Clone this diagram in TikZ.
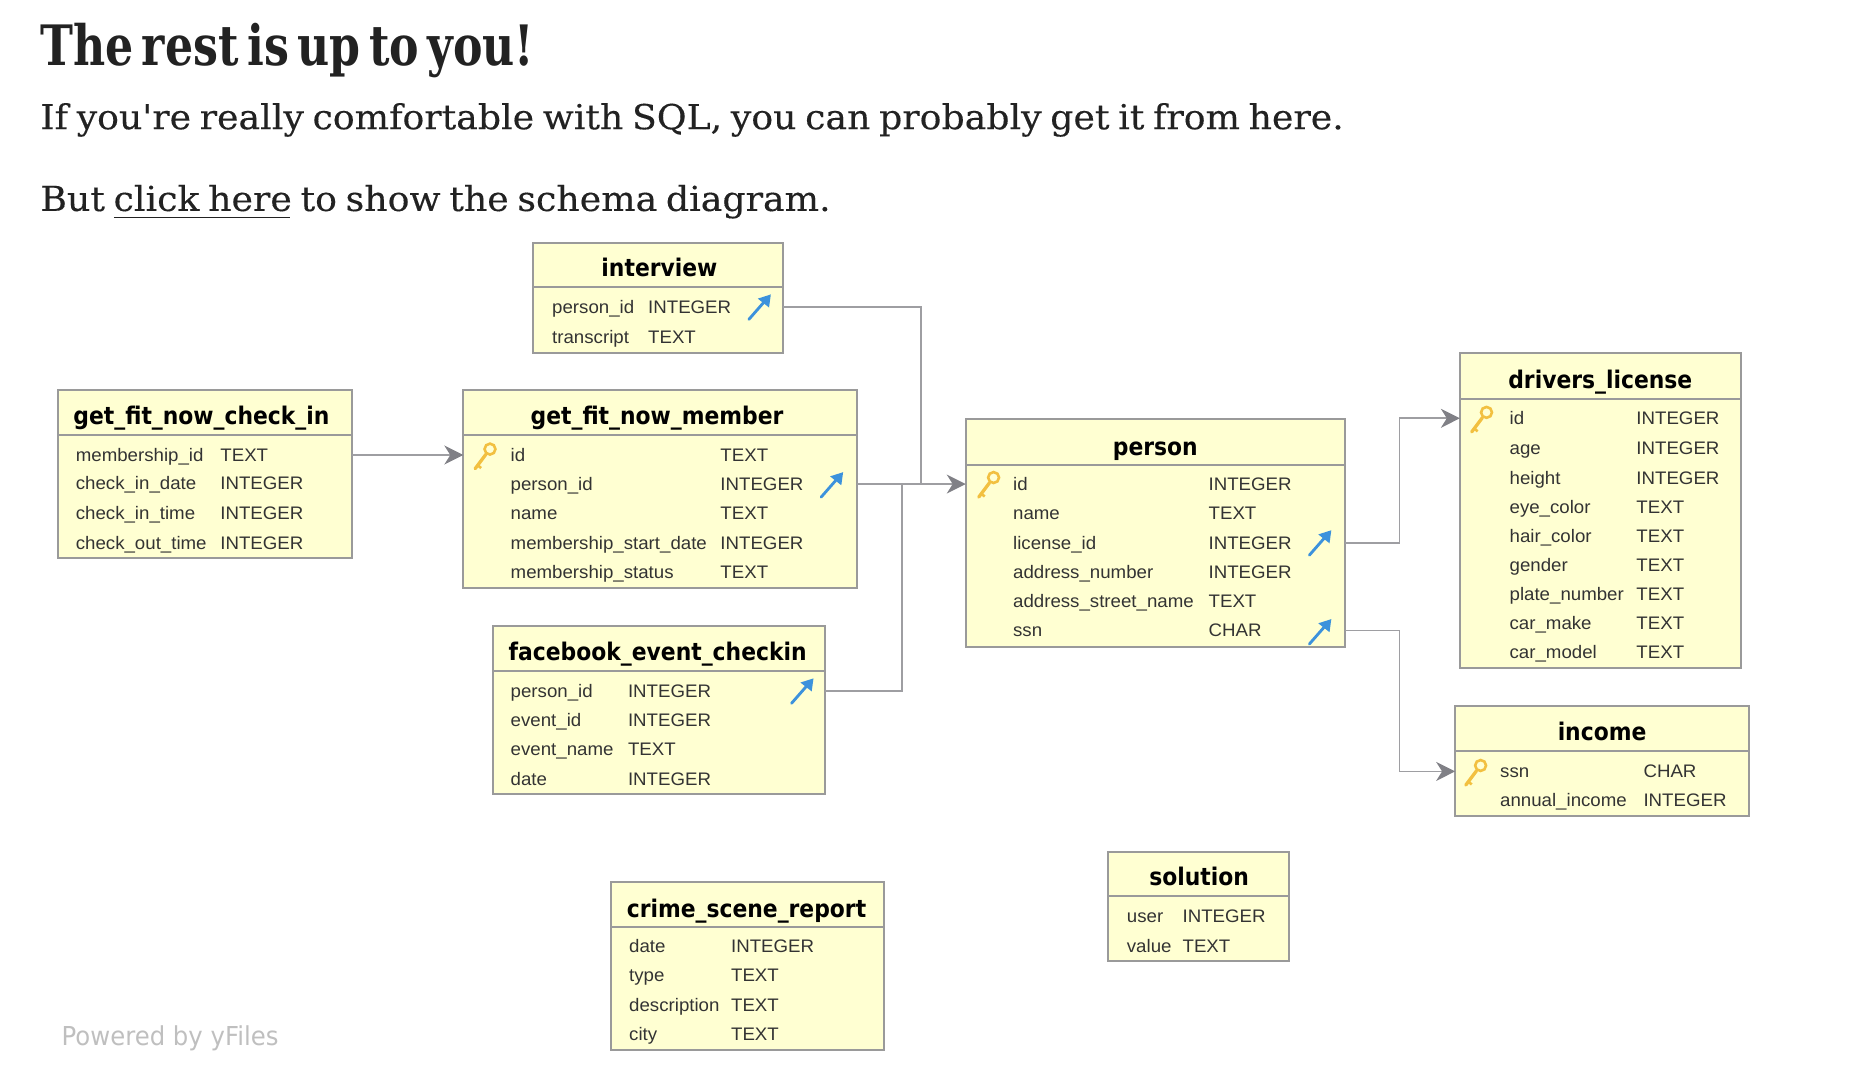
\documentclass[tikz,border=0pt]{standalone}
\usepackage{fontspec}
\setmainfont{Liberation Sans}[FakeStretch=1.03]
\newfontfamily\headfont{DejaVu Serif}[WordSpace=0.55]
\newfontfamily\bodyfont{DejaVu Serif}[WordSpace=0.75,FakeBold=0.25]
\newfontfamily\ttlfont{DejaVu Sans}[FakeStretch=0.9]
\usetikzlibrary{arrows.meta}
\definecolor{boxfill}{HTML}{FFFFD2}
\definecolor{boxline}{HTML}{9A9A9A}
\definecolor{connline}{HTML}{9E9EA2}
\definecolor{headtip}{HTML}{808086}
\definecolor{fkblue}{HTML}{3C92DC}
\definecolor{keygold}{HTML}{F2C040}
\definecolor{inktext}{HTML}{333333}
\definecolor{pagetext}{HTML}{222222}
\tikzset{
 plain/.style={inner sep=0pt,outer sep=0pt},
 tablebox/.style={plain,draw=boxline,fill=boxfill,line width=1.7pt,anchor=north west},
 tabletitle/.style={plain,anchor=base,font=\ttlfont\bfseries\fontsize{20.5}{24}\selectfont,text=black},
 fieldtext/.style={plain,anchor=base west,font=\fontsize{15.3}{18}\selectfont,text=inktext},
 pagetitle/.style={plain,anchor=base west,font=\headfont\bfseries\fontsize{47}{50}\selectfont,text=pagetext},
 pagebody/.style={plain,anchor=base west,font=\bodyfont\fontsize{29}{34}\selectfont,text=pagetext},
 credit/.style={plain,anchor=base west,font=\ttlfont\fontsize{22}{26}\selectfont,text=black!25},
 conn/.style={draw=connline,line width=1.5pt},
 connarrow/.style={conn,-{Stealth[length=16pt,width=16pt,inset=5pt,color=headtip]}},
 keyicon/.pic={
   \draw[keygold,line width=2.8pt,line cap=round] (1,-2) -- (-8,10);
   \draw[keygold,line width=2.2pt] (-6,7) -- (-3,9.5);
   \draw[keygold,line width=2.2pt] (4.5,-6.5) circle[radius=4.6];
 },
 fkicon/.pic={
   \draw[fkblue,line width=2.4pt,line cap=round] (-9,10) -- (5,-6);
   \fill[fkblue] (9.5,-11) -- (8,0) -- (-1.5,-7.5) -- cycle;
 },
}
% \tbl{name}{x1}{y1}{x2}{y2}{header rule y}{title baseline}{title x shift}{title}
\newcommand{\tbl}[9]{%
  \node[tablebox,minimum width=#4-#2,minimum height=#5-#3] (#1) at (#2,#3) {};
  \draw[boxline,line width=1.7pt] (#1.west |- 0,#6) -- (#1.east |- 0,#6);
  \node[tabletitle,xshift=#8pt] (#1-title) at (#1.north |- 0,#7) {#9};
}
% \rw{name}{x field}{x type}{centre y}{field}{type}
\newcommand{\rw}[6]{%
  \coordinate (#1-y) at (#2,#4);
  \node[fieldtext] (#1-f) at (#2,#4+5.5) {#5};
  \node[fieldtext] (#1-t) at (#3,#4+5.5) {#6};
}
\begin{document}
\begin{tikzpicture}[x=1pt,y=-1pt]
\useasboundingbox (0,0) rectangle (1568,908);
\node[pagetitle] (head) at (34,55) {\resizebox{417pt}{\height}{The rest is up to you!}};
\node[pagebody] (line1) at (34,109) {\resizebox{1100pt}{\height}{If you're really comfortable with SQL, you can probably get it from here.}};
\node[pagebody] (line2) at (34,178) {\resizebox{667pt}{\height}{But click here to show the schema diagram.}};
\draw[pagetext,line width=1pt] (96,183.5) -- (245,183.5);

\tbl{interview}{450}{205}{661}{298}{242}{233}{1}{interview}
\rw{iv1}{466}{547}{259}{person\_id}{INTEGER}
\rw{iv2}{466}{547}{284}{transcript}{TEXT}

\tbl{checkin}{49}{329}{297}{471}{367}{358}{-3}{get\_fit\_now\_check\_in}
\rw{ci1}{64}{186}{384}{membership\_id}{TEXT}
\rw{ci2}{64}{186}{408}{check\_in\_date}{INTEGER}
\rw{ci3}{64}{186}{433}{check\_in\_time}{INTEGER}
\rw{ci4}{64}{186}{458}{check\_out\_time}{INTEGER}

\tbl{member}{391}{329}{723}{496}{367}{358}{-2.5}{get\_fit\_now\_member}
\rw{gm1}{431}{608}{384}{id}{TEXT}
\rw{gm2}{431}{608}{408.5}{person\_id}{INTEGER}
\rw{gm3}{431}{608}{433}{name}{TEXT}
\rw{gm4}{431}{608}{458}{membership\_start\_date}{INTEGER}
\rw{gm5}{431}{608}{483}{membership\_status}{TEXT}

\tbl{facebook}{416}{528}{696}{670}{566}{557}{-1}{facebook\_event\_checkin}
\rw{fb1}{431}{530}{583}{person\_id}{INTEGER}
\rw{fb2}{431}{530}{608}{event\_id}{INTEGER}
\rw{fb3}{431}{530}{632}{event\_name}{TEXT}
\rw{fb4}{431}{530}{657}{date}{INTEGER}

\tbl{person}{815}{354}{1135}{546}{392}{384}{0}{person}
\rw{pn1}{855}{1020}{408.5}{id}{INTEGER}
\rw{pn2}{855}{1020}{433}{name}{TEXT}
\rw{pn3}{855}{1020}{458}{license\_id}{INTEGER}
\rw{pn4}{855}{1020}{483}{address\_number}{INTEGER}
\rw{pn5}{855}{1020}{507}{address\_street\_name}{TEXT}
\rw{pn6}{855}{1020}{532}{ssn}{CHAR}

\tbl{license}{1232}{298}{1469}{564}{337}{328}{0}{drivers\_license}
\rw{dl1}{1274}{1381}{353}{id}{INTEGER}
\rw{dl2}{1274}{1381}{378}{age}{INTEGER}
\rw{dl3}{1274}{1381}{403}{height}{INTEGER}
\rw{dl4}{1274}{1381}{428}{eye\_color}{TEXT}
\rw{dl5}{1274}{1381}{452}{hair\_color}{TEXT}
\rw{dl6}{1274}{1381}{477}{gender}{TEXT}
\rw{dl7}{1274}{1381}{501}{plate\_number}{TEXT}
\rw{dl8}{1274}{1381}{526}{car\_make}{TEXT}
\rw{dl9}{1274}{1381}{550}{car\_model}{TEXT}

\tbl{income}{1228}{596}{1476}{689}{634}{625}{0}{income}
\rw{ic1}{1266}{1387}{651}{ssn}{CHAR}
\rw{ic2}{1266}{1387}{675}{annual\_income}{INTEGER}

\tbl{solution}{935}{719}{1088}{811}{756}{747}{0.5}{solution}
\rw{so1}{951}{998}{773}{user}{INTEGER}
\rw{so2}{951}{998}{798}{value}{TEXT}

\tbl{crime}{516}{744}{746}{886}{782}{774}{-1}{crime\_scene\_report}
\rw{cr1}{531}{617}{798}{date}{INTEGER}
\rw{cr2}{531}{617}{823}{type}{TEXT}
\rw{cr3}{531}{617}{848}{description}{TEXT}
\rw{cr4}{531}{617}{873}{city}{TEXT}

\pic at (409,385.5) {keyicon};
\pic at (834,409.5) {keyicon};
\pic at (1250,354.5) {keyicon};
\pic at (1245,652.5) {keyicon};
\pic at (641,259.5) {fkicon};
\pic at (702,409.5) {fkicon};
\pic at (677,583.5) {fkicon};
\pic at (1114,458.5) {fkicon};
\pic at (1114,533.5) {fkicon};

\coordinate (jointA) at (777,409);
\coordinate (jointB) at (761,409);
\draw[connarrow] (checkin.east |- ci1-y) -- (member.west |- ci1-y);
\draw[connarrow] (member.east |- gm2-y) -- (person.west |- pn1-y);
\draw[conn] (interview.east |- iv1-y) -| (jointA);
\draw[conn] (facebook.east |- fb1-y) -| (jointB);
\coordinate (elbowC) at (1181,458);
\draw[connarrow] (person.east |- pn3-y) -- (elbowC) |- (license.west |- dl1-y);
\coordinate (elbowD) at (1181,532);
\draw[connarrow] (person.east |- pn6-y) -- (elbowD) |- (income.west |- ic1-y);

\node[credit] (credit) at (52,882) {\resizebox{183pt}{\height}{Powered by yFiles}};
\end{tikzpicture}
\end{document}
